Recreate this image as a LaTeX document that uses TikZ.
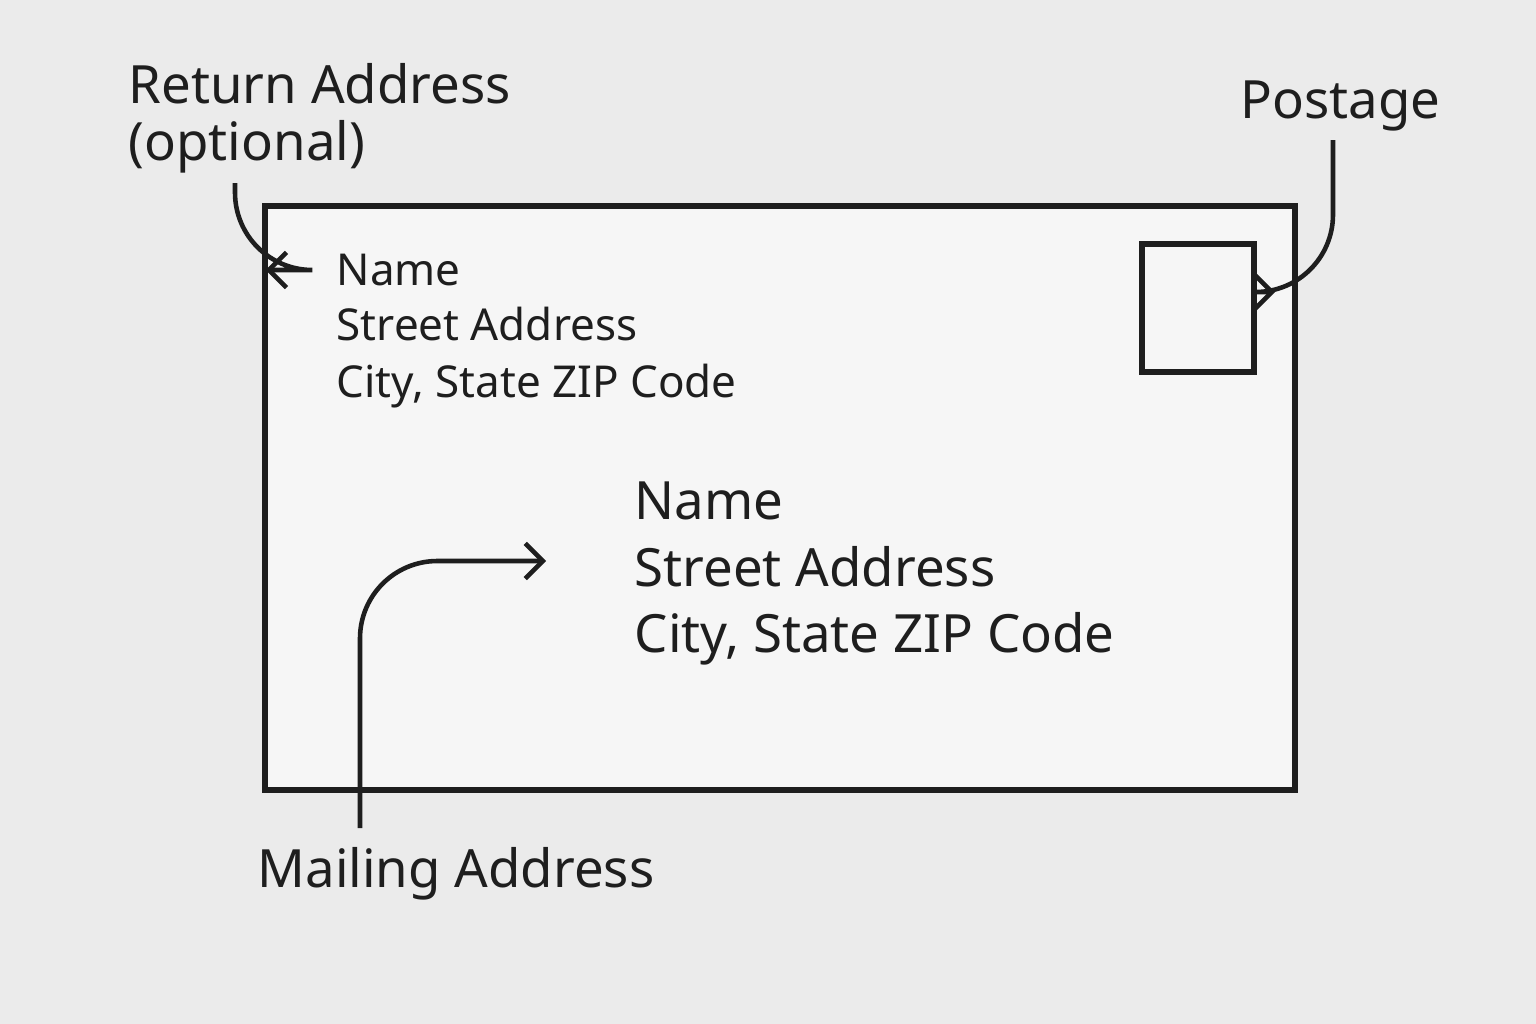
\documentclass[tikz,border=0pt]{standalone}
\usepackage{fontspec}
\setmainfont{Noto Sans}
\usetikzlibrary{arrows.meta}
\definecolor{ink}{HTML}{1E1E1E}
\definecolor{paper}{HTML}{EBEBEB}
\definecolor{envfill}{HTML}{F6F6F6}
\begin{document}
\begin{tikzpicture}[x=0.01cm,y=-0.01cm,
    line/.style={draw=ink, line width=1.3pt},
    arrow/.style={line, -{Straight Barb[length=5pt,width=10pt]}, rounded corners=22pt},
    small/.style={anchor=base west, inner sep=0pt, text=ink, font=\fontsize{12.5}{15}\selectfont},
    big/.style={anchor=base west, inner sep=0pt, text=ink, font=\fontsize{15}{18}\selectfont}]
    \fill[paper] (0,0) rectangle (1536,1024);
    \useasboundingbox (0,0) rectangle (1536,1024);

    % Envelope and stamp
    \draw[line, fill=envfill, line width=1.6pt] (265,206) rectangle (1295,790);
    \draw[line, line width=1.6pt] (1142,244) rectangle (1254,372);

    % Return address
    \node[small] (retname) at (336,285) {Name};
    \node[small] (retstreet) at (336,340) {Street Address};
    \node[small] (retcity) at (336,397) {City, State ZIP Code};

    % Mailing address
    \node[big] (mailname) at (634,519) {Name};
    \node[big] (mailstreet) at (634,586) {Street Address};
    \node[big] (mailcity) at (634,652) {City, State ZIP Code};

    % Labels
    \node[big] (retlabel) at (128,103) {Return Address};
    \node[big] (retopt) at (128,160) {(optional)};
    \node[big] (postlabel) at (1240,118) {Postage};
    \node[big] (maillabel) at (257,887) {Mailing Address};

    \coordinate (retstart) at (235,183);
    \coordinate (poststart) at (1333,140);
    \coordinate (mailstart) at (360,828);

    % Connectors
    \draw[arrow] (retstart) |- ([xshift=-20]retname.west |- 0,270);
    \draw[arrow] (poststart) |- (1275,292);
    \draw[arrow] (mailstart) |- ([xshift=-25]mailstreet.west |- 0,561);
\end{tikzpicture}
\end{document}
